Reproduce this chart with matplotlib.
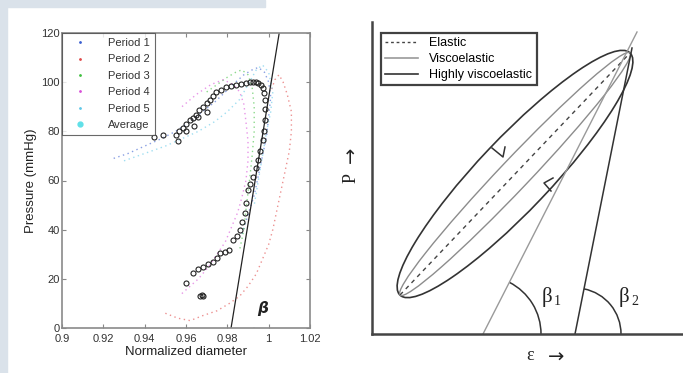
import numpy as np
import matplotlib
matplotlib.use("Agg")
import matplotlib.pyplot as plt
from matplotlib.patches import Ellipse, Arc, Rectangle
from matplotlib.lines import Line2D

plt.rcParams['font.family'] = ['Liberation Sans', 'DejaVu Sans']

# ---- left panel data ----
p1 = [(0.925, 69), (0.932, 71), (0.940, 74), (0.948, 77), (0.955, 80), (0.962, 84), (0.968, 88),
      (0.974, 92), (0.979, 96), (0.984, 100), (0.988, 103), (0.992, 105), (0.995, 106), (0.998, 104),
      (1.000, 100), (1.001, 94), (1.000, 86), (0.999, 78), (0.997, 70), (0.995, 62), (0.993, 54),
      (0.990, 46), (0.987, 38)]
p2 = [(0.950, 6), (0.956, 4), (0.962, 3), (0.968, 5), (0.975, 7), (0.981, 10), (0.986, 13), (0.990, 17),
      (0.994, 22), (0.997, 28), (1.000, 34), (1.002, 40), (1.004, 48), (1.006, 56), (1.008, 64),
      (1.010, 72), (1.011, 80), (1.011, 88), (1.009, 95), (1.007, 100), (1.005, 103), (1.003, 101),
      (1.001, 96)]
p3 = [(0.970, 96), (0.975, 99), (0.980, 102), (0.984, 104), (0.987, 105), (0.990, 103), (0.992, 98),
      (0.993, 90), (0.993, 80), (0.992, 70), (0.991, 62), (0.990, 55), (0.989, 48), (0.988, 40),
      (0.986, 32)]
p4 = [(0.958, 14), (0.962, 17), (0.966, 20), (0.971, 25), (0.975, 30), (0.979, 35), (0.982, 41),
      (0.985, 47), (0.987, 53), (0.989, 60), (0.990, 68), (0.990, 76), (0.989, 84), (0.988, 91),
      (0.986, 96), (0.983, 99), (0.978, 101), (0.972, 99), (0.965, 95), (0.958, 90)]
p5 = [(0.930, 68), (0.940, 71), (0.950, 74), (0.958, 77), (0.966, 80), (0.974, 84), (0.980, 88),
      (0.986, 93), (0.990, 99), (0.994, 105), (0.997, 107), (1.000, 104), (1.002, 96), (1.001, 88),
      (0.999, 80), (0.997, 70), (0.995, 60), (0.993, 50)]
avg = [(0.9670, 13.1), (0.9675, 13.3), (0.9680, 13.0), (0.9600, 18.4), (0.9633, 22.2), (0.9660, 23.8),
       (0.9682, 25.0), (0.9705, 26.0), (0.9730, 27.0), (0.9750, 28.6), (0.9763, 30.4), (0.9790, 31.0),
       (0.9810, 31.7), (0.9827, 35.8), (0.9845, 37.5), (0.9860, 39.9), (0.9872, 43.0), (0.9884, 46.7),
       (0.9890, 51.0), (0.9900, 56.0), (0.9912, 58.5), (0.9925, 61.5), (0.9937, 65.0), (0.9949, 68.3),
       (0.9960, 72.0), (0.9973, 76.5), (0.9978, 80.0), (0.9981, 84.6), (0.9982, 89.0), (0.9981, 92.8),
       (0.9978, 95.5), (0.9973, 97.5), (0.9962, 98.8), (0.9949, 99.6), (0.9937, 100.2), (0.9925, 100.2),
       (0.9910, 100.0), (0.9892, 99.6), (0.9868, 99.2), (0.9843, 98.9), (0.9820, 98.4), (0.9795, 97.9),
       (0.9770, 97.0), (0.9747, 96.1), (0.9730, 94.5), (0.9714, 92.8), (0.9700, 91.5), (0.9682, 90.0),
       (0.9665, 88.5), (0.9650, 86.7), (0.9635, 85.5), (0.9617, 84.6), (0.9600, 83.0), (0.9584, 81.2),
       (0.9568, 80.0), (0.9552, 78.5), (0.9487, 78.5), (0.9447, 77.8), (0.9700, 88.0), (0.9660, 86.0),
       (0.9640, 82.0), (0.9600, 80.0), (0.9560, 76.0)]
periods = [p1, p2, p3, p4, p5]
period_names = ["Period 1", "Period 2", "Period 3", "Period 4", "Period 5"]
period_colors = ["#3a5fd0", "#e04848", "#40c040", "#d850d8", "#60c8e8"]
tangent_x = [0.9818, 1.0051]
tangent_y = [0, 120]
xticks = [0.9, 0.92, 0.94, 0.96, 0.98, 1.0, 1.02]
xtick_labels = ["0.9", "0.92", "0.94", "0.96", "0.98", "1", "1.02"]
yticks = [0, 20, 40, 60, 80, 100, 120]

# ---- right panel schematic (pixel-like units) ----
ell_center = (143, 160)
ell_major = 334
ell_minor_outer = 72
ell_minor_inner = 30
ell_angle = 46.5
elastic_x = [28, 258]
elastic_y = [39, 281]
line1_x = [111, 265]
line1_y = [0, 302]
line2_x = [203, 260]
line2_y = [0, 286]
arrow_up = [(120, 186), (131, 177), (133, 187)]
arrow_low = [(181, 156), (172, 151), (179, 143)]

fig = plt.figure(figsize=(6.83, 3.73), dpi=100)
fig.patch.set_facecolor("white")
bg = "#dae2ea"
fig.patches.append(Rectangle((0, 0), 7 / 683, 1, transform=fig.transFigure, color=bg, zorder=0))
fig.patches.append(Rectangle((0, 1 - 7 / 373), 265 / 683, 7 / 373, transform=fig.transFigure, color=bg, zorder=0))

# left panel
ax = fig.add_axes([62 / 683, 45 / 373, 248 / 683, 295 / 373])
for pts, c, n in zip(periods, period_colors, period_names):
    xy = np.array(pts).T
    ax.plot(xy[0], xy[1], linestyle=(0, (1, 2.5)), color=c, lw=1.0, alpha=0.6)
a = np.array(avg).T
ax.plot(a[0], a[1], 'o', mfc='none', mec='#222222', ms=3.6, mew=0.8)
ax.plot(tangent_x, tangent_y, color='#222222', lw=0.9)
r_px = 23
ax.add_patch(Arc((tangent_x[0], 0), 2 * r_px / 248 * 0.12, 2 * r_px / 295 * 120,
                 theta1=0, theta2=81, color='#222222', lw=0.9))
ax.text(0.9945, 6, r"$\boldsymbol{\beta}$", fontsize=11, color='#222222')
ax.set_xlim(0.9, 1.02)
ax.set_ylim(0, 120)
ax.set_xticks(xticks)
ax.set_xticklabels(xtick_labels)
ax.set_yticks(yticks)
ax.tick_params(direction='in', length=3, labelsize=8, colors='#333333', top=True, right=True,
               pad=1.5, color='#888888')
ax.tick_params(axis='x', pad=4)
for s in ax.spines.values():
    s.set_color('#8a8a8a')
    s.set_linewidth(1.2)
ax.set_xlabel("Normalized diameter", fontsize=9.5, color='#222222', labelpad=2)
ax.set_ylabel("Pressure (mmHg)", fontsize=9.5, color='#222222', labelpad=3)
handles = [Line2D([], [], marker='.', ls='none', color=c, ms=2) for c in period_colors]
handles.append(Line2D([], [], marker='o', ls='none', mfc='#60e0e8', mec='#60e0e8', ms=3.5))
leg = ax.legend(handles, period_names + ["Average"], loc='upper left', fontsize=8,
                frameon=True, fancybox=False, borderaxespad=0, handlelength=2.4,
                labelspacing=0.58, borderpad=0.45, handletextpad=1.3)
leg.get_frame().set_edgecolor('#444444')
leg.get_frame().set_linewidth(0.8)
for t in leg.get_texts():
    t.set_color('#333333')

# right panel
ax2 = fig.add_axes([372 / 683, 39 / 373, 311 / 683, 312 / 373])
ax2.set_xlim(0, 311)
ax2.set_ylim(0, 312)
ax2.add_patch(Ellipse(ell_center, ell_major, ell_minor_outer, angle=ell_angle,
                      fill=False, color='#333333', lw=1.2))
ax2.add_patch(Ellipse(ell_center, ell_major, ell_minor_inner, angle=ell_angle,
                      fill=False, color='#8c8c8c', lw=1.0))
ax2.plot(elastic_x, elastic_y, linestyle=(0, (3, 3)), color='#444444', lw=1.0)
ax2.plot(line1_x, line1_y, color='#9a9a9a', lw=1.0)
ax2.plot(line2_x, line2_y, color='#333333', lw=1.1)
ax2.add_patch(Arc((line1_x[0], 0), 116, 116, theta1=0, theta2=63, color='#333333', lw=1.1))
ax2.add_patch(Arc((line2_x[0], 0), 92, 92, theta1=0, theta2=78.7, color='#333333', lw=1.1))
for arr in (arrow_up, arrow_low):
    xy = np.array(arr).T
    ax2.plot(xy[0], xy[1], color='#333333', lw=1.1)
serif = ['Liberation Serif', 'DejaVu Serif']
ax2.text(170, 32, "β", fontsize=15, family=serif, color='#222222')
ax2.text(182, 29, "1", fontsize=10, family=serif, color='#222222')
ax2.text(247, 32, "β", fontsize=15, family=serif, color='#222222')
ax2.text(259, 29, "2", fontsize=10, family=serif, color='#222222')
for s in ['top', 'right']:
    ax2.spines[s].set_visible(False)
for s in ['left', 'bottom']:
    ax2.spines[s].set_color('#444444')
    ax2.spines[s].set_linewidth(1.8)
ax2.set_xticks([])
ax2.set_yticks([])
fig.text(351 / 683, 1 - 178 / 373, "P", rotation=90, family=serif, fontsize=13,
         ha='center', va='center', color='#222222')
fig.text(351 / 683, 1 - 155 / 373, "\u2192", rotation=90, family=['DejaVu Sans'], fontsize=14,
         ha='center', va='center', color='#222222')
fig.text(530 / 683, 1 - 356 / 373, "\u03b5", family=serif, fontsize=13,
         ha='center', va='center', color='#222222')
fig.text(556 / 683, 1 - 357 / 373, "\u2192", family=['DejaVu Sans'], fontsize=14,
         ha='center', va='center', color='#222222')
h2 = [Line2D([], [], ls=(0, (2, 2)), color='#444444', lw=1.0),
      Line2D([], [], color='#999999', lw=1.2),
      Line2D([], [], color='#333333', lw=1.2)]
leg2 = ax2.legend(h2, ["Elastic", "Viscoelastic", "Highly viscoelastic"],
                  loc='upper left', bbox_to_anchor=(9 / 311, 301 / 312), fontsize=9,
                  frameon=True, fancybox=False, borderaxespad=0, handlelength=2.6,
                  labelspacing=0.3, borderpad=0.35, handletextpad=0.9)
leg2.get_frame().set_edgecolor('#111111')
leg2.get_frame().set_linewidth(1.6)

fig.savefig("out.png", dpi=100)
